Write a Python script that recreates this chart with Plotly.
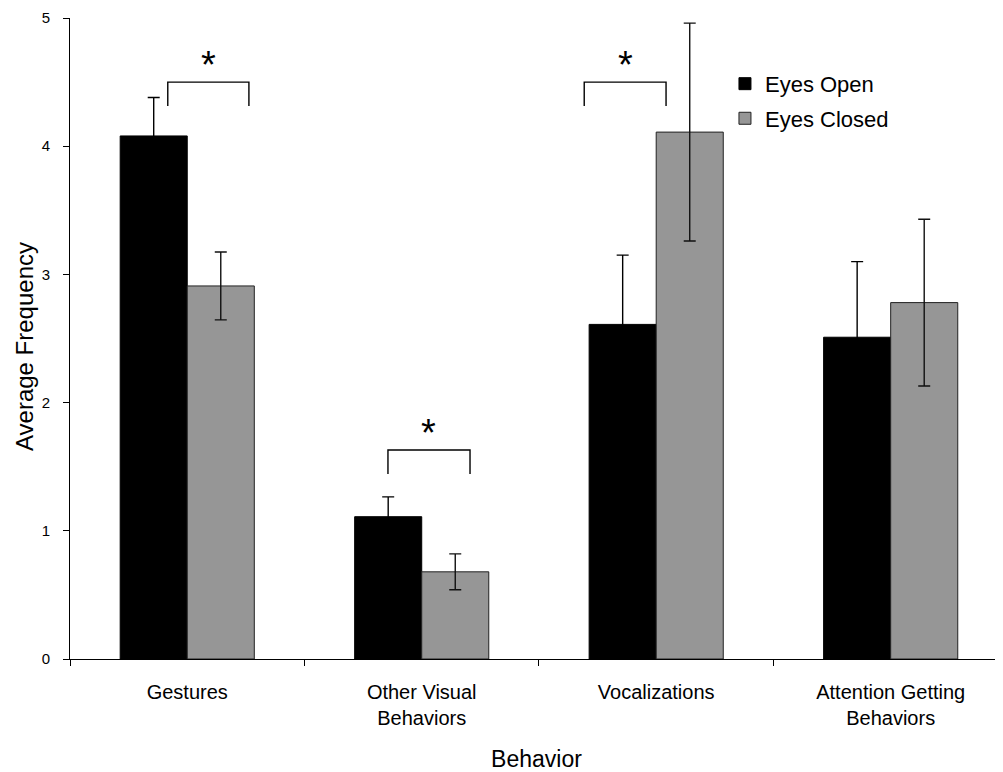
import plotly.graph_objects as go

categories = ["Gestures", "Other Visual<br>Behaviors", "Vocalizations", "Attention Getting<br>Behaviors"]
eyes_open = [4.08, 1.11, 2.61, 2.51]
eyes_open_err = [0.30, 0.155, 0.54, 0.59]
eyes_closed = [2.91, 0.68, 4.11, 2.78]
eyes_closed_err = [0.265, 0.14, 0.85, 0.65]

# significance brackets (category-index coordinates, data units)
sig_left = [-0.083, 0.856, 1.693]
sig_right = [0.263, 1.206, 2.042]
sig_top = [4.50, 1.63, 4.50]
sig_leg = 0.187

FONT = "Liberation Sans, Arial, sans-serif"

fig = go.Figure()
fig.add_trace(go.Bar(
    name="Eyes Open", x=categories, y=eyes_open,
    marker=dict(color="#000000", line=dict(color="#000000", width=1)),
    error_y=dict(type="data", array=eyes_open_err, color="#000000", thickness=1.4, width=6),
    legendgroup="a",
))
fig.add_trace(go.Bar(
    name="Eyes Closed", x=categories, y=eyes_closed,
    marker=dict(color="#969696", line=dict(color="#222222", width=1)),
    error_y=dict(type="data", array=eyes_closed_err, color="#111111", thickness=1.4, width=6),
    legendgroup="b",
))

shapes = []
annotations = []
for l, r, t in zip(sig_left, sig_right, sig_top):
    shapes.append(dict(
        type="path", xref="x", yref="y",
        path=f"M {l},{t - sig_leg} L {l},{t} L {r},{t} L {r},{t - sig_leg}",
        line=dict(color="#000000", width=1.4),
    ))
    annotations.append(dict(
        x=(l + r) / 2, y=t, xref="x", yref="y", text="*", showarrow=False,
        font=dict(family=FONT, size=38, color="#000000"),
        yanchor="bottom", yshift=-6,
    ))

# y-axis title placed as a rotated annotation
annotations.append(dict(
    text="Average Frequency", xref="paper", yref="paper",
    x=-0.0493, y=0.4867, xanchor="center", yanchor="middle",
    textangle=-90, showarrow=False,
    font=dict(family=FONT, size=24, color="#000000"),
))

fig.update_layout(
    width=995, height=764,
    margin=dict(l=62, r=0, t=10, b=113),
    paper_bgcolor="white", plot_bgcolor="white",
    barmode="group", bargap=0.428, bargroupgap=0,
    font=dict(family=FONT, color="#000000"),
    shapes=shapes, annotations=annotations,
    legend=dict(
        x=0.702, y=0.93, xanchor="left", yanchor="top",
        font=dict(family=FONT, size=22, color="#000000"),
        traceorder="grouped", tracegroupgap=3,
        bgcolor="rgba(0,0,0,0)",
    ),
    xaxis=dict(
        type="category", range=[-0.5, 3.479],
        showline=True, linecolor="#000000", linewidth=1,
        ticks="outside", tickson="boundaries", ticklen=6, tickcolor="#000000",
        tickfont=dict(family=FONT, size=20, color="#000000"),
        ticklabelstandoff=15,
        title=dict(text="Behavior", font=dict(family=FONT, size=23, color="#000000"), standoff=25),
        showgrid=False, automargin=False,
    ),
    yaxis=dict(
        range=[0, 5], tickvals=[0, 1, 2, 3, 4, 5],
        showline=True, linecolor="#000000", linewidth=1,
        ticks="outside", ticklen=6, tickcolor="#000000",
        tickfont=dict(family=FONT, size=15, color="#000000"),
        ticklabelstandoff=10,
        showgrid=False, zeroline=False, automargin=False,
    ),
)

fig.write_html("out.html")
